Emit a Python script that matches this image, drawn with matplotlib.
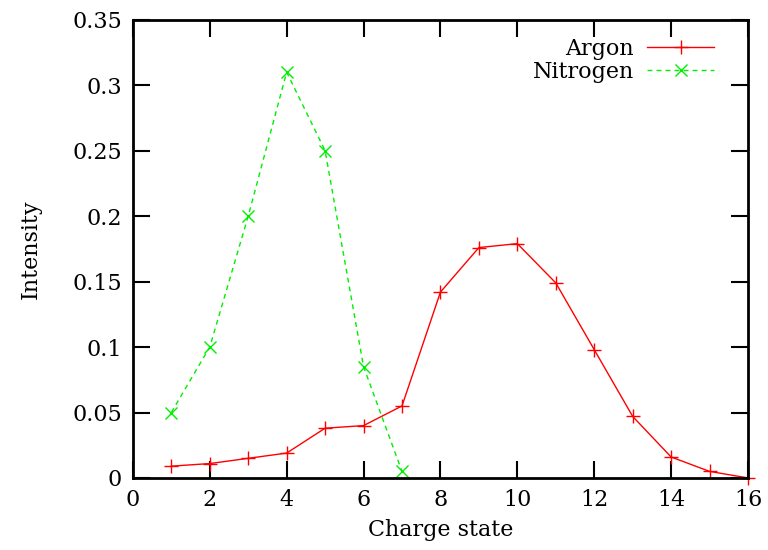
import matplotlib
matplotlib.use("Agg")
import matplotlib.pyplot as plt

charge = list(range(1, 17))
argon = [0.009, 0.011, 0.015, 0.019, 0.038, 0.040, 0.055, 0.142,
         0.176, 0.179, 0.149, 0.098, 0.047, 0.016, 0.005, 0.0]
charge_n = list(range(1, 8))
nitrogen = [0.05, 0.10, 0.20, 0.31, 0.25, 0.085, 0.005]

xticks = list(range(0, 17, 2))
yticks = [0, 0.05, 0.1, 0.15, 0.2, 0.25, 0.3, 0.35]
ytick_labels = ["0", "0.05", "0.1", "0.15", "0.2", "0.25", "0.3", "0.35"]

plt.rcParams["font.family"] = ["DejaVu Serif"]
fig = plt.figure(figsize=(7.68, 5.5), dpi=100)
ax = fig.add_axes([0.173, 0.131, 0.801, 0.833])

ax.plot(charge, argon, color="#ff0000", lw=1.0, marker="+", ms=10, mew=1.0,
        label="Argon", clip_on=False)
ax.plot(charge_n, nitrogen, color="#00ee00", lw=1.0, ls=(0, (3.5, 3)), marker="x",
        ms=8.5, mew=1.0, label="Nitrogen", clip_on=False)

ax.set_xlim(0, 16)
ax.set_ylim(0, 0.35)
ax.set_xticks(xticks)
ax.set_yticks(yticks)
ax.set_yticklabels(ytick_labels)
ax.tick_params(direction="in", length=12, width=1.5, top=True, right=True,
               labelsize=16, pad=8)
for s in ax.spines.values():
    s.set_linewidth(2)

ax.set_xlabel("Charge state", fontsize=16, labelpad=6)
ax.set_ylabel("Intensity", fontsize=16, labelpad=22)

ax.legend(loc="upper right", frameon=False, markerfirst=False, fontsize=16,
          handlelength=3.0, handletextpad=0.6, labelspacing=0.05,
          borderaxespad=0.3, bbox_to_anchor=(0.97, 0.995))

fig.savefig("out.png", dpi=100)
